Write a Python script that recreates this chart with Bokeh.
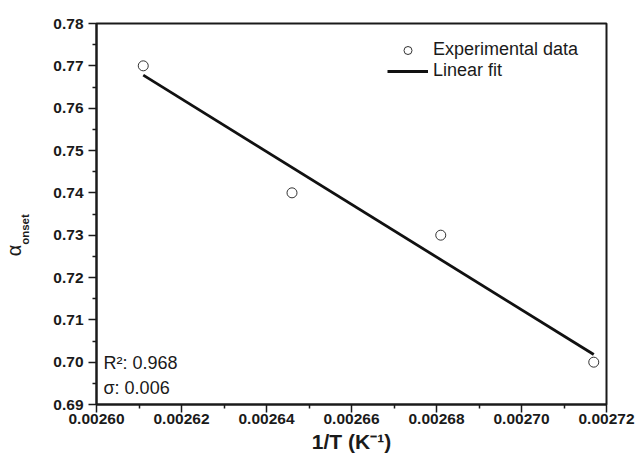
import math
from bokeh.plotting import figure
from bokeh.layouts import row
from bokeh.models import (ColumnDataSource, FixedTicker, NumeralTickFormatter,
                          Label, Legend, LegendItem, Range1d)
from bokeh.embed import file_html
from bokeh.resources import INLINE

# ---- data ----
inv_T = [0.002611, 0.002646, 0.002681, 0.002717]
alpha_onset = [0.770, 0.740, 0.730, 0.700]
fit_x = [0.002611, 0.002717]
fit_y = [0.7678, 0.7018]

x_ticks = [0.00260, 0.00262, 0.00264, 0.00266, 0.00268, 0.00270, 0.00272]
x_minor = [0.00261, 0.00263, 0.00265, 0.00267, 0.00269, 0.00271]
y_ticks = [0.69, 0.70, 0.71, 0.72, 0.73, 0.74, 0.75, 0.76, 0.77, 0.78]
y_minor = [0.695, 0.705, 0.715, 0.725, 0.735, 0.745, 0.755, 0.765, 0.775]

r2_text = "R²: 0.968"
sigma_text = "σ: 0.006"
x_title = "1/T (K⁻¹)"
y_title_main = "α"
y_title_sub = "onset"

FONT = "Liberation Sans"
INK = "#1a1a1a"

# ---- narrow panel carrying the y-axis title ----
yl = figure(width=40, height=459, output_backend="svg", toolbar_location=None,
            x_axis_type=None, y_axis_type=None,
            x_range=Range1d(0, 1), y_range=Range1d(0, 1),
            min_border_left=0, min_border_right=0, min_border_top=0,
            min_border_bottom=0)
yl.outline_line_color = None
yl.xgrid.visible = False
yl.ygrid.visible = False
yl.background_fill_color = "white"
yl.border_fill_color = "white"
yl.add_layout(Label(x=13.5, y=154, x_units="screen", y_units="screen",
                    text=y_title_main, text_font=FONT, text_font_size="20px",
                    text_color=INK, angle=math.pi / 2, text_baseline="middle",
                    text_align="center"))
yl.add_layout(Label(x=24.5, y=175, x_units="screen", y_units="screen",
                    text=y_title_sub, text_font=FONT, text_font_size="11.5px",
                    text_font_style="bold", text_color=INK, angle=math.pi / 2,
                    text_baseline="middle", text_align="center"))

# ---- main plot ----
p = figure(width=599, height=459, output_backend="svg", toolbar_location=None,
           x_range=Range1d(0.00260, 0.00272), y_range=Range1d(0.69, 0.78),
           min_border_left=56, min_border_right=33, min_border_top=23,
           min_border_bottom=55)
p.background_fill_color = "white"
p.border_fill_color = "white"
p.xgrid.visible = False
p.ygrid.visible = False
p.outline_line_color = INK
p.outline_line_width = 2

pts = ColumnDataSource(dict(x=inv_T, y=alpha_onset))
fit = ColumnDataSource(dict(x=fit_x, y=fit_y))

r_line = p.line("x", "y", source=fit, line_color="#111111", line_width=2.8)
r_pts = p.scatter("x", "y", source=pts, marker="circle", size=10,
                  fill_color=None, line_color="#333333", line_width=1)

for ax in (p.xaxis[0], p.yaxis[0]):
    ax.axis_line_width = 2
    ax.axis_line_color = INK
    ax.major_tick_line_color = INK
    ax.minor_tick_line_color = INK
    ax.major_tick_line_width = 1.5
    ax.minor_tick_line_width = 1.5
    ax.major_tick_in = 0
    ax.major_tick_out = 8
    ax.minor_tick_in = 0
    ax.minor_tick_out = 4
    ax.major_label_text_font = FONT
    ax.major_label_text_font_style = "bold"
    ax.major_label_text_font_size = "15.5px"
    ax.major_label_text_color = INK

p.xaxis[0].ticker = FixedTicker(ticks=x_ticks, minor_ticks=x_minor)
p.yaxis[0].ticker = FixedTicker(ticks=y_ticks, minor_ticks=y_minor)
p.xaxis[0].formatter = NumeralTickFormatter(format="0.00000")
p.yaxis[0].formatter = NumeralTickFormatter(format="0.00")
p.xaxis[0].major_label_standoff = 1
p.yaxis[0].major_label_standoff = 5
p.yaxis[0].axis_label = None

xa = p.xaxis[0]
xa.axis_label = x_title
xa.axis_label_text_font = FONT
xa.axis_label_text_font_size = "21px"
xa.axis_label_text_font_style = "bold"
xa.axis_label_text_color = INK
xa.axis_label_standoff = 3

legend = Legend(items=[LegendItem(label="Experimental data", renderers=[r_pts]),
                       LegendItem(label="Linear fit", renderers=[r_line])],
                location=(291, 323), padding=0, margin=0, spacing=0,
                glyph_width=41, glyph_height=20, label_height=20,
                label_standoff=5, border_line_alpha=0, background_fill_alpha=0,
                label_text_font=FONT, label_text_font_size="18px",
                label_text_color=INK)
p.add_layout(legend, "center")

p.add_layout(Label(x=7, y=42, x_units="screen", y_units="screen", text=r2_text,
                   text_font=FONT, text_font_size="18px", text_color=INK,
                   text_baseline="middle", text_align="left"))
p.add_layout(Label(x=7, y=17, x_units="screen", y_units="screen", text=sigma_text,
                   text_font=FONT, text_font_size="18px", text_color=INK,
                   text_baseline="middle", text_align="left"))

layout = row(yl, p, spacing=0)
open("out.html", "w").write(file_html(layout, INLINE))
